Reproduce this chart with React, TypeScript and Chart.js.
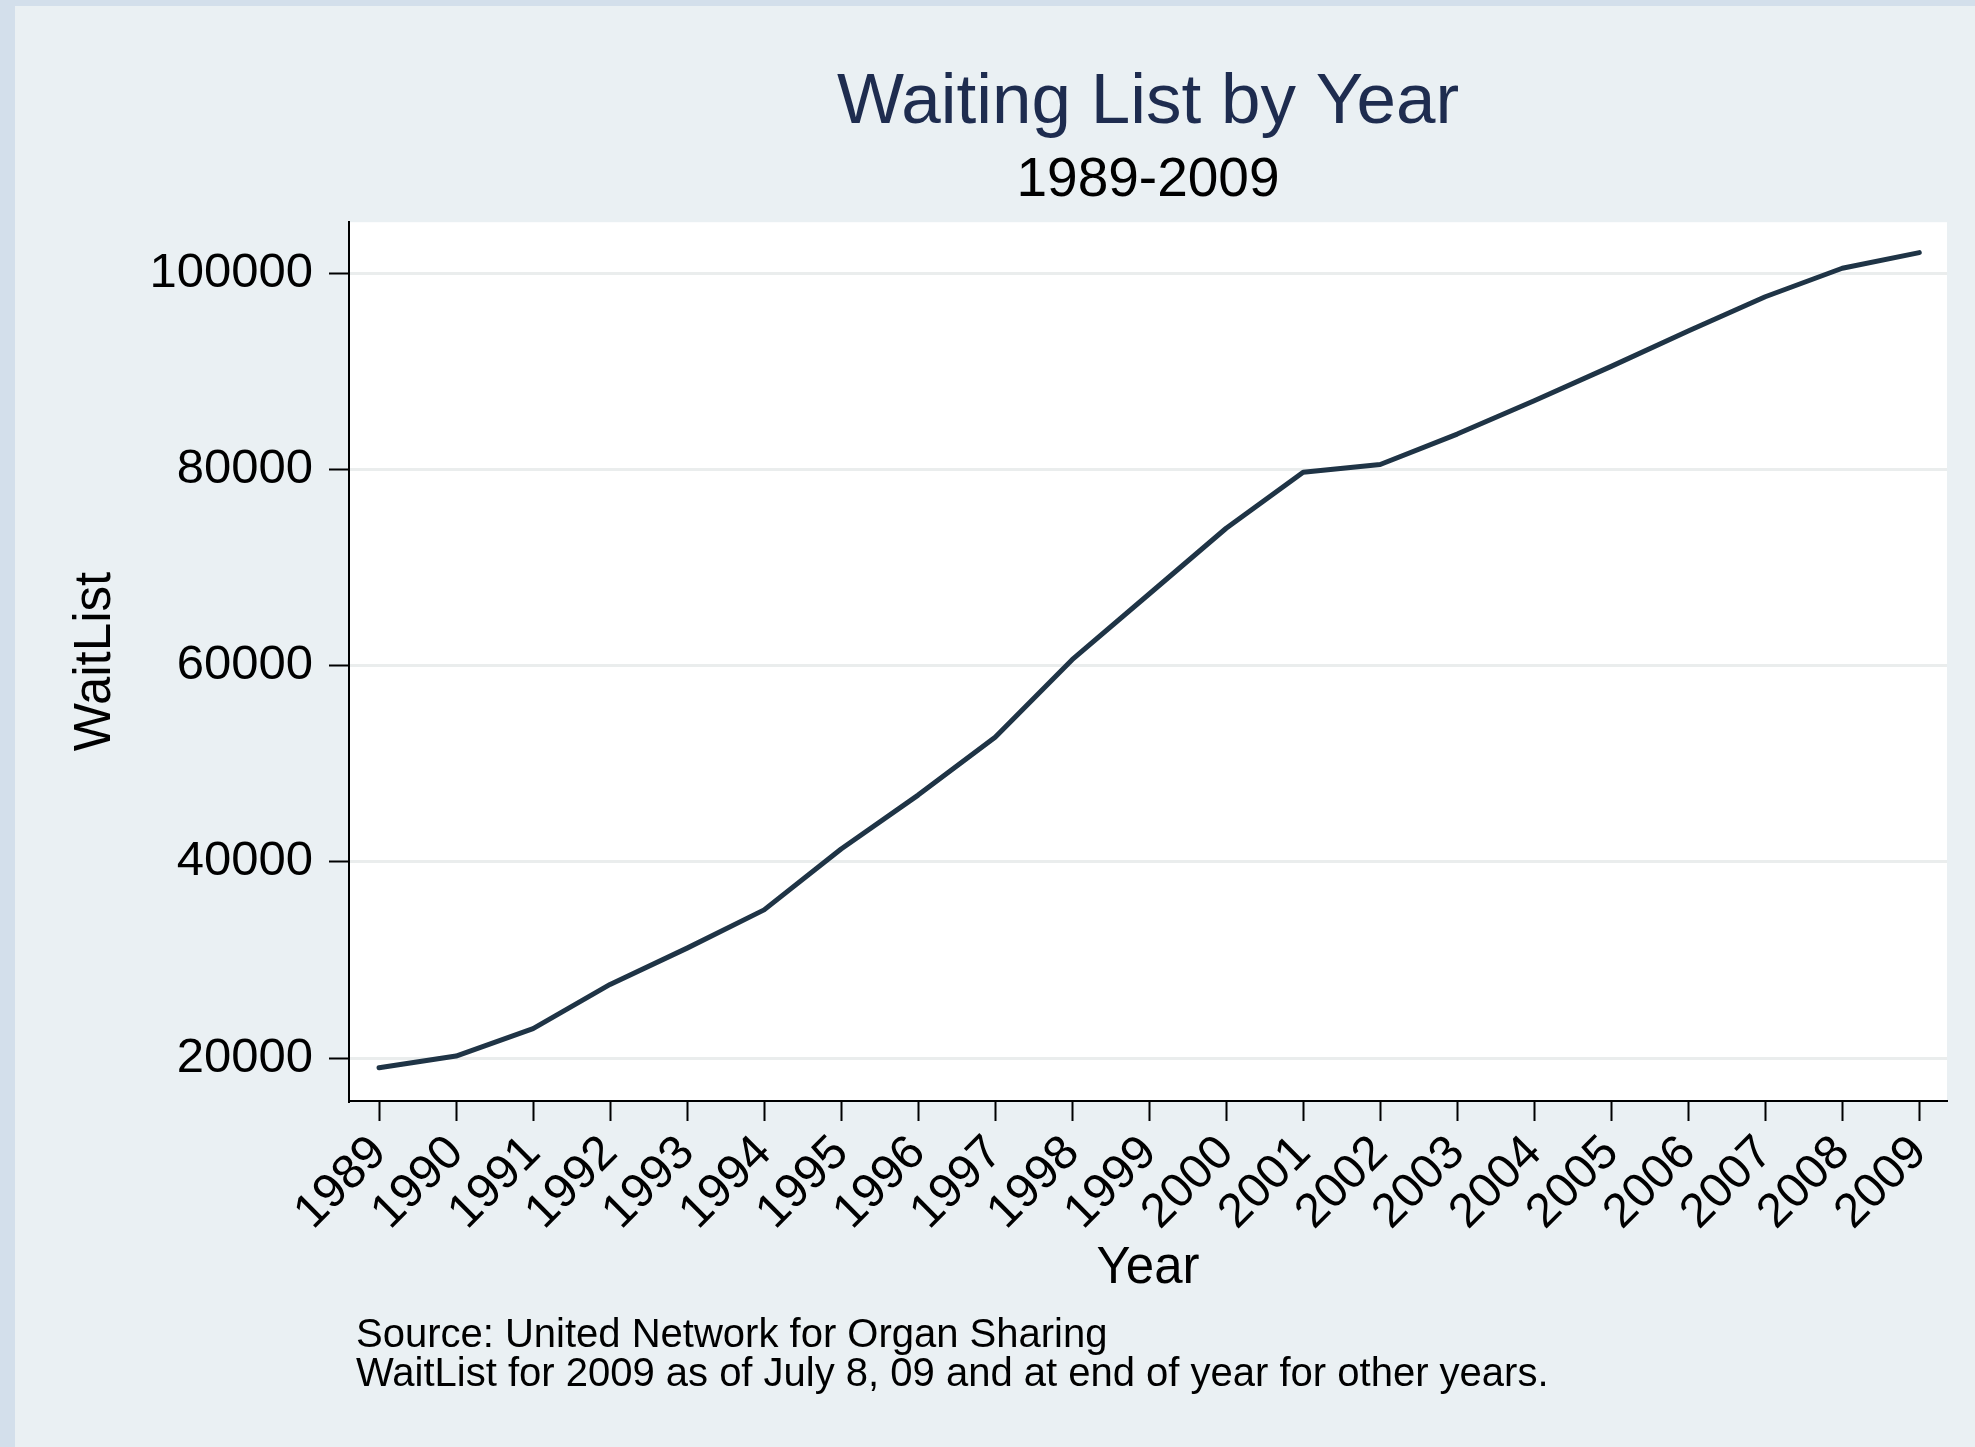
import React, { useEffect, useRef } from "react";
import { Chart, registerables } from "chart.js";

Chart.register(...registerables);

const years: number[] = [1989, 1990, 1991, 1992, 1993, 1994, 1995, 1996, 1997, 1998, 1999, 2000, 2001, 2002, 2003, 2004, 2005, 2006, 2007, 2008, 2009];
const waitList: number[] = [19000, 20200, 23000, 27500, 31200, 35100, 41300, 46800, 52700, 60600, 67300, 74000, 79700, 80500, 83600, 87000, 90500, 94100, 97600, 100500, 102100];
const yTicks: number[] = [20000, 40000, 60000, 80000, 100000];

const titleText = "Waiting List by Year";
const subtitleText = "1989-2009";
const xTitle = "Year";
const yTitle = "WaitList";
const notes: string[] = [
  "Source: United Network for Organ Sharing",
  "WaitList for 2009 as of July 8, 09 and at end of year for other years.",
];

const W = 1975;
const H = 1447;
const FONT = '"Liberation Sans", Arial, Helvetica, sans-serif';

export default function App() {
  const ref = useRef<HTMLCanvasElement | null>(null);

  useEffect(() => {
    if (!ref.current) return;

    const plotBg = {
      id: "plotBg",
      beforeDraw(chart: any) {
        const { ctx, chartArea } = chart;
        ctx.save();
        ctx.fillStyle = "#ffffff";
        ctx.fillRect(chartArea.left, chartArea.top, chartArea.right - chartArea.left, chartArea.bottom - chartArea.top);
        ctx.restore();
      },
    };

    const notesPlugin = {
      id: "notes",
      afterDraw(chart: any) {
        const { ctx, chartArea } = chart;
        ctx.save();
        ctx.fillStyle = "#000000";
        ctx.font = `40px ${FONT}`;
        ctx.textAlign = "left";
        ctx.textBaseline = "alphabetic";
        notes.forEach((t, i) => {
          ctx.fillText(t, chartArea.left + 7, chartArea.bottom + 246 + i * 39);
        });
        ctx.restore();
      },
    };

    const chart = new Chart(ref.current, {
      type: "line",
      data: {
        datasets: [
          {
            label: yTitle,
            data: years.map((yr, i) => ({ x: yr, y: waitList[i] })),
            borderColor: "#1f3446",
            borderWidth: 5,
            borderJoinStyle: "round",
            borderCapStyle: "round",
            pointRadius: 0,
            tension: 0,
            fill: false,
          },
        ],
      },
      options: {
        animation: false,
        responsive: false,
        devicePixelRatio: 1,
        layout: { padding: { left: 0, right: 28, top: 0, bottom: 147 } },
        plugins: {
          legend: { display: false },
          tooltip: { enabled: false },
          title: {
            display: true,
            text: titleText,
            fullSize: false,
            color: "#1e2c4f",
            font: { family: FONT, size: 71, weight: "normal" },
            padding: { top: 61, bottom: 0 },
          },
          subtitle: {
            display: true,
            text: subtitleText,
            fullSize: false,
            color: "#000000",
            font: { family: FONT, size: 55, weight: "normal" },
            padding: { top: 2, bottom: 8 },
          },
        },
        scales: {
          x: {
            type: "linear",
            min: 1988.61,
            max: 2009.36,
            afterBuildTicks: (scale: any) => {
              scale.ticks = years.map((v) => ({ value: v }));
            },
            afterFit: (scale: any) => {
              scale.height = 199;
              scale.paddingLeft = 0;
              scale.paddingRight = 0;
            },
            ticks: {
              autoSkip: false,
              maxRotation: 45,
              minRotation: 45,
              padding: 4,
              color: "#000000",
              font: { family: FONT, size: 48 },
              callback: (v: any) => String(v),
            },
            grid: {
              drawOnChartArea: false,
              drawTicks: true,
              tickLength: 20,
              tickWidth: 2,
              tickColor: "#000000",
            },
            border: { display: true, color: "#000000", width: 2 },
            title: {
              display: true,
              text: xTitle,
              color: "#000000",
              font: { family: FONT, size: 51 },
              padding: { top: 0, bottom: 0 },
            },
          },
          y: {
            type: "linear",
            min: 15618,
            max: 105197,
            afterBuildTicks: (scale: any) => {
              scale.ticks = yTicks.map((v) => ({ value: v }));
            },
            afterFit: (scale: any) => {
              scale.width = 349;
              scale.paddingTop = 0;
              scale.paddingBottom = 0;
            },
            ticks: {
              padding: 16,
              color: "#000000",
              font: { family: FONT, size: 49 },
              callback: (v: any) => String(v),
            },
            grid: {
              color: "#eaeded",
              lineWidth: 3,
              drawTicks: true,
              tickLength: 20,
              tickWidth: 2,
              tickColor: "#000000",
            },
            border: { display: true, color: "#000000", width: 2 },
            title: {
              display: true,
              text: yTitle,
              color: "#000000",
              font: { family: FONT, size: 51 },
              padding: { top: 65, bottom: 0 },
            },
          },
        },
      },
      plugins: [plotBg, notesPlugin],
    } as any);

    return () => chart.destroy();
  }, []);

  return (
    <div style={{ position: "absolute", left: 0, top: 0, width: W, height: H, background: "#eaf0f3", overflow: "hidden" }}>
      <div style={{ position: "absolute", left: 0, top: 0, width: 15, height: H, background: "#d3dfeb" }} />
      <div style={{ position: "absolute", left: 0, top: 0, width: W, height: 6, background: "#d3dfeb" }} />
      <canvas ref={ref} width={W} height={H} style={{ position: "absolute", left: 0, top: 0, width: W, height: H }} />
    </div>
  );
}
